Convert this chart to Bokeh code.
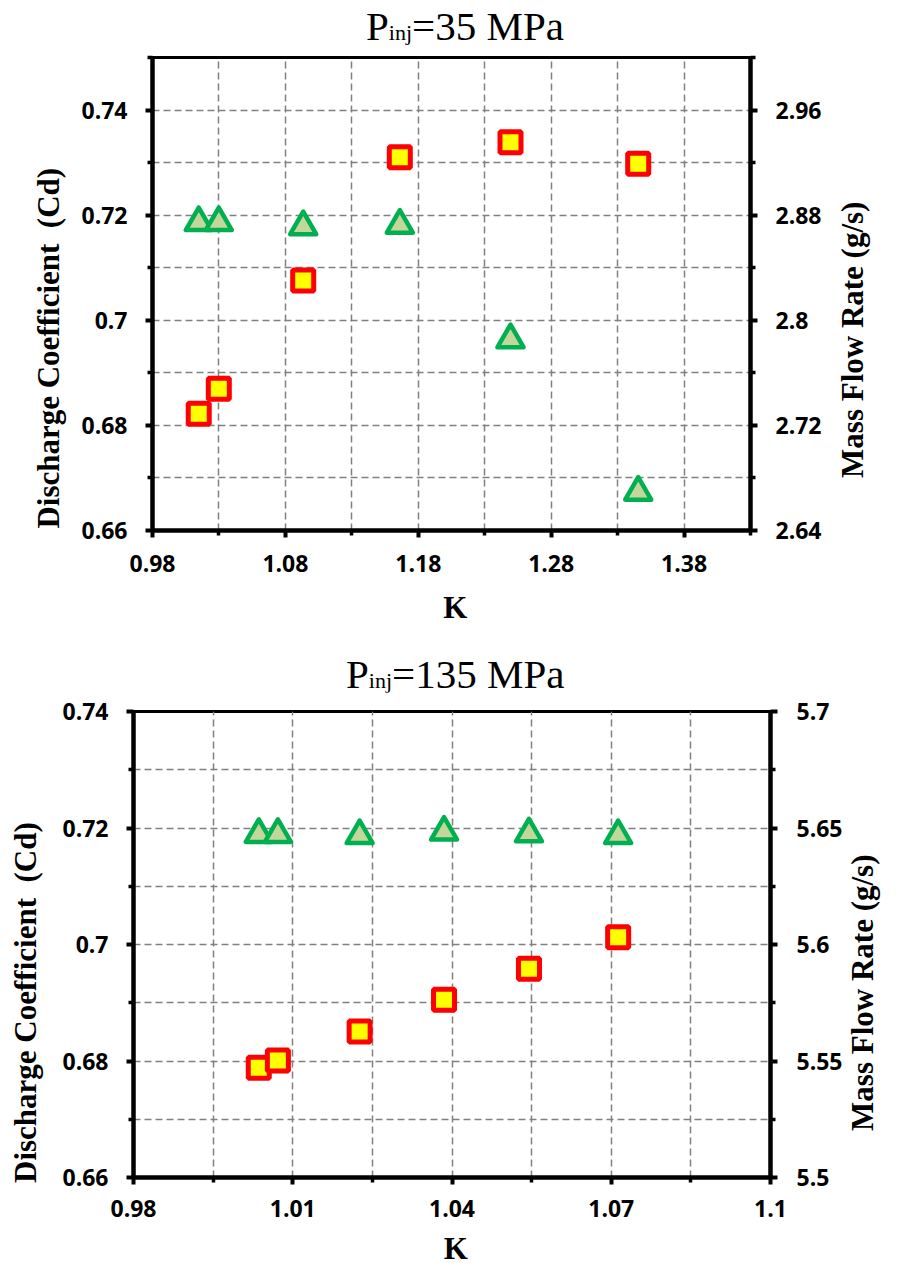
import math
from bokeh.plotting import figure
from bokeh.models import LinearAxis, Range1d, FixedTicker, Div
from bokeh.layouts import column
from bokeh.embed import file_html
from bokeh.resources import INLINE

# ---------------- data ----------------
# Pinj = 35 MPa
k_35 = [1.0148, 1.0299, 1.0934, 1.1661, 1.2494, 1.3455]
cd_35 = [0.7186, 0.7186, 0.7178, 0.7181, 0.6963, 0.6673]
mfr_35 = [2.7288, 2.7478, 2.8303, 2.9241, 2.9355, 2.9191]

# Pinj = 135 MPa
k_135 = [1.0036, 1.0072, 1.0226, 1.0385, 1.0545, 1.0713]
cd_135 = [0.7189, 0.7189, 0.7187, 0.7193, 0.7190, 0.7187]
mfr_135 = [5.5471, 5.5502, 5.5627, 5.5763, 5.5896, 5.6031]

# tick values / labels
top_x_ticks = [0.98, 1.08, 1.18, 1.28, 1.38]
top_x_labels = ["0.98", "1.08", "1.18", "1.28", "1.38"]
top_x_minor = [1.03, 1.13, 1.23, 1.33, 1.43]
top_y_ticks = [0.66, 0.68, 0.7, 0.72, 0.74]
top_y_labels = ["0.66", "0.68", "0.7", "0.72", "0.74"]
top_y_minor = [0.67, 0.69, 0.71, 0.73, 0.75]
top_r_ticks = [2.64, 2.72, 2.8, 2.88, 2.96]
top_r_labels = ["2.64", "2.72", "2.8", "2.88", "2.96"]
top_r_minor = [2.68, 2.76, 2.84, 2.92, 3.0]

bot_x_ticks = [0.98, 1.01, 1.04, 1.07, 1.1]
bot_x_labels = ["0.98", "1.01", "1.04", "1.07", "1.1"]
bot_x_minor = [0.995, 1.025, 1.055, 1.085]
bot_y_ticks = [0.66, 0.68, 0.7, 0.72, 0.74]
bot_y_labels = ["0.66", "0.68", "0.7", "0.72", "0.74"]
bot_y_minor = [0.67, 0.69, 0.71, 0.73]
bot_r_ticks = [5.5, 5.55, 5.6, 5.65, 5.7]
bot_r_labels = ["5.5", "5.55", "5.6", "5.65", "5.7"]
bot_r_minor = [5.525, 5.575, 5.625, 5.675]

x_title = "K"
cd_title = "Discharge Coefficient\u00a0 (Cd)"
mfr_title = "Mass Flow Rate (g/s)"

SERIF = "Liberation Serif"
SANS = "Open Sans"
NB = "\u00a0"


def style_axis(ax, ticks, labels, minor, standoff, title, title_standoff):
    ax.ticker = FixedTicker(ticks=ticks, minor_ticks=minor)
    ax.major_label_overrides = {t: l for t, l in zip(ticks, labels)}
    ax.axis_line_width = 4.5
    ax.axis_line_color = "black"
    ax.major_tick_line_width = 4
    ax.minor_tick_line_width = 3.5
    ax.major_tick_line_color = "black"
    ax.minor_tick_line_color = "black"
    ax.major_tick_out = 7
    ax.major_tick_in = 0
    ax.minor_tick_out = 5
    ax.minor_tick_in = 0
    ax.major_label_text_font = SANS
    ax.major_label_text_font_style = "bold"
    ax.major_label_text_font_size = "23px"
    ax.major_label_text_color = "black"
    ax.major_label_standoff = standoff
    if title:
        ax.axis_label = title
        ax.axis_label_text_font = SERIF
        ax.axis_label_text_font_style = "bold"
        ax.axis_label_text_font_size = "31px"
        ax.axis_label_text_color = "black"
        ax.axis_label_standoff = title_standoff


def title_axis(p, pos, text, standoff):
    # right-hand title, drawn upward, starting at value `pos` of the right scale
    ax = LinearAxis(y_range_name="mfr")
    ax.ticker = FixedTicker(ticks=[pos], minor_ticks=[])
    ax.major_label_overrides = {pos: text}
    ax.major_label_orientation = math.pi / 2
    ax.axis_line_color = None
    ax.major_tick_line_color = None
    ax.minor_tick_line_color = None
    ax.major_tick_out = 0
    ax.major_tick_in = 0
    ax.minor_tick_out = 0
    ax.minor_tick_in = 0
    ax.major_label_text_font = SERIF
    ax.major_label_text_font_style = "bold"
    ax.major_label_text_font_size = "31px"
    ax.major_label_text_color = "black"
    ax.major_label_standoff = standoff
    p.add_layout(ax, "right")


def make_chart(k, cd, mfr, xr, yr, rr, xt, yt, rt, xgrid, ygrid, borders, height, rtitle):
    left, right, top, bottom = borders
    p = figure(width=900, height=height, x_range=Range1d(*xr), y_range=Range1d(*yr),
               output_backend="svg", toolbar_location=None, title=None,
               min_border_left=left, min_border_right=right,
               min_border_top=top, min_border_bottom=bottom)
    p.extra_y_ranges = {"mfr": Range1d(*rr)}
    p.background_fill_color = "white"
    p.border_fill_color = "white"
    p.outline_line_color = "black"
    p.outline_line_width = 3
    p.outline_line_alpha = 1

    style_axis(p.xaxis[0], *xt)
    style_axis(p.yaxis[0], *yt)
    rax = LinearAxis(y_range_name="mfr")
    style_axis(rax, *rt)
    p.add_layout(rax, "right")
    title_axis(p, *rtitle)

    for g, t in ((p.xgrid[0], xgrid), (p.ygrid[0], ygrid)):
        g.ticker = FixedTicker(ticks=t)
        g.grid_line_color = "#808080"
        g.grid_line_width = 1.5
        g.grid_line_dash = "7 4"

    p.scatter(k, mfr, marker="square", size=21, fill_color="#FFFF00",
              line_color="#FF0000", line_width=5, y_range_name="mfr")
    p.scatter(k, cd, marker="triangle", size=26, fill_color="#C4D79B",
              line_color="#00B050", line_width=4.5, line_join="round")
    return p


def title_div(pressure, height, pad_top, pad_left):
    html = ('<div style="font-family:\'Liberation Serif\',serif;font-size:41px;'
            'line-height:41px;color:#000;white-space:nowrap;margin:0;'
            f'padding-top:{pad_top}px;padding-left:{pad_left}px;">'
            'P<span style="font-size:22px;">inj</span>'
            f'={pressure} MPa</div>')
    return Div(text=html, width=900, height=height, margin=0)


top_title = title_div("35", 48, 6, 366)
top = make_chart(k_35, cd_35, mfr_35, (0.98, 1.43), (0.66, 0.75), (2.64, 3.0),
                 (top_x_ticks, top_x_labels, top_x_minor, 17, NB + x_title, 15),
                 (top_y_ticks, top_y_labels, top_y_minor, 18, cd_title + NB * 14, 12),
                 (top_r_ticks, top_r_labels, top_r_minor, 18, None, 0),
                 [1.03, 1.08, 1.13, 1.18, 1.23, 1.28, 1.33, 1.38],
                 [0.67, 0.68, 0.69, 0.70, 0.71, 0.72, 0.73, 0.74],
                 (152, 150, 9, 104), 586, (2.68, mfr_title, 28))

bot_title = title_div("135", 58, 20, 346)
bot = make_chart(k_135, cd_135, mfr_135, (0.98, 1.10), (0.66, 0.74), (5.5, 5.7),
                 (bot_x_ticks, bot_x_labels, bot_x_minor, 15, NB + x_title, 11),
                 (bot_y_ticks, bot_y_labels, bot_y_minor, 18, cd_title + NB * 15, 16),
                 (bot_r_ticks, bot_r_labels, bot_r_minor, 19, None, 0),
                 [0.995, 1.01, 1.025, 1.04, 1.055, 1.07, 1.085],
                 [0.67, 0.68, 0.69, 0.70, 0.71, 0.72, 0.73],
                 (133, 129, 19, 91), 576, (5.52, mfr_title, 17))

root_top = column(top_title, top, spacing=0)
root_bot = column(bot_title, bot, spacing=0)
open("out.html", "w").write(file_html((root_top, root_bot), INLINE))
